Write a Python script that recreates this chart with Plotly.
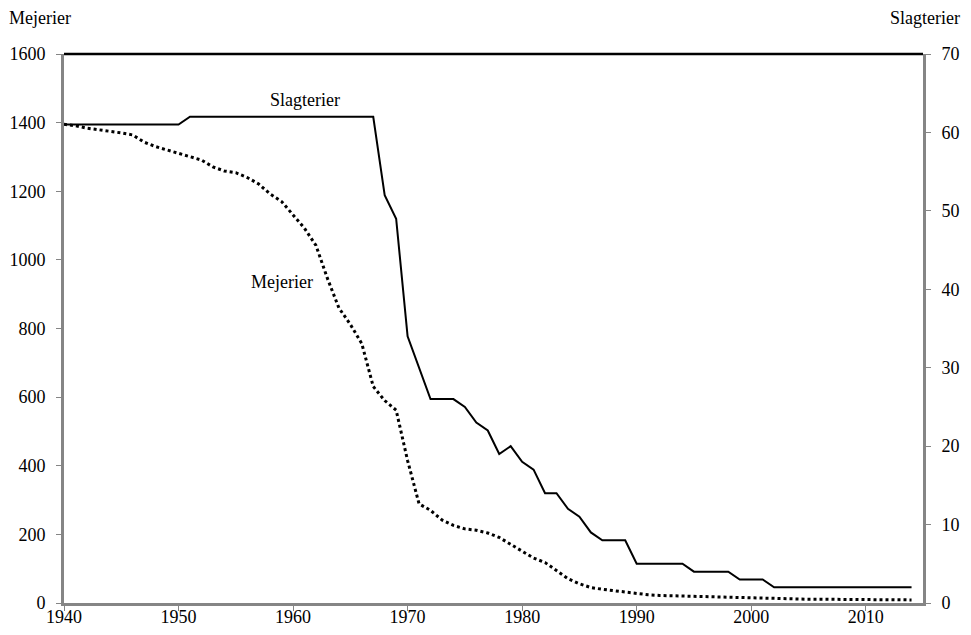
import plotly.graph_objects as go

years = list(range(1940, 2015))

mejerier = [1395, 1391, 1384, 1380, 1376, 1370, 1364, 1343, 1330, 1320,
            1309, 1299, 1291, 1271, 1259, 1254, 1240, 1221, 1192, 1170,
            1131, 1092, 1042, 946, 860, 812, 756, 631, 590, 562,
            415, 289, 270, 242, 226, 216, 212, 204, 191, 171,
            149, 131, 118, 94, 71, 56, 45, 40, 36, 30,
            26, 24, 22, 21, 20, 19, 18, 17, 16, 15,
            14, 13, 13, 12, 12, 11, 11, 11, 10, 10,
            10, 9, 9, 9, 9]

slagterier = [61] * 11 + [62] * 17 + [52, 49, 34, 30, 26, 26, 26, 25, 23, 22,
              19, 20, 18, 17, 14, 14, 12, 11, 9, 8, 8, 8] + [5] * 5 + [4] * 4 + [3] * 3 + [2] * 13

x_ticks = list(range(1940, 2011, 10))
left_ticks = list(range(0, 1601, 200))
right_ticks = list(range(0, 71, 10))

FONT = "Liberation Serif, Times New Roman, serif"
AXIS_COLOR = "#858585"
FS = 18

fig = go.Figure()
fig.add_trace(go.Scatter(x=years, y=mejerier, mode="lines", name="Mejerier",
                         line=dict(color="black", width=3, dash="dot"), yaxis="y"))
fig.add_trace(go.Scatter(x=years, y=slagterier, mode="lines", name="Slagterier",
                         line=dict(color="black", width=2), yaxis="y2"))

common = dict(ticks="outside", ticklen=5, tickcolor=AXIS_COLOR, tickwidth=1,
              showline=True, linecolor=AXIS_COLOR, linewidth=3, automargin=False,
              showgrid=False, zeroline=False, tickfont=dict(family=FONT, size=FS))

fig.update_layout(
    width=955, height=619,
    margin=dict(l=56, r=40, t=46, b=24),
    paper_bgcolor="white", plot_bgcolor="white",
    showlegend=False,
    font=dict(family=FONT, size=FS, color="black"),
    xaxis=dict(range=[1940, 2015], tickvals=x_ticks, ticklabelstandoff=-10, **common),
    yaxis=dict(range=[0, 1600], tickvals=left_ticks, ticklabelstandoff=7, **common),
    yaxis2=dict(range=[0, 70], tickvals=right_ticks, ticklabelstandoff=7,
                overlaying="y", side="right", **common),
    shapes=[dict(type="line", xref="paper", yref="paper", x0=0, x1=1, y0=1, y1=1,
                 line=dict(color="black", width=2.5))],
    annotations=[
        dict(text="Mejerier", xref="paper", yref="paper", x=-0.028, y=1.066,
             xanchor="center", yanchor="middle", showarrow=False, font=dict(size=FS)),
        dict(text="Slagterier", xref="paper", yref="paper", x=1.045, y=1.066,
             xanchor="right", yanchor="middle", showarrow=False, font=dict(size=FS)),
        dict(text="Slagterier", x=1961.0, y=1466, xref="x", yref="y",
             showarrow=False, font=dict(size=FS)),
        dict(text="Mejerier", x=1959.0, y=935, xref="x", yref="y",
             showarrow=False, font=dict(size=FS)),
    ],
)

fig.write_html("out.html")
